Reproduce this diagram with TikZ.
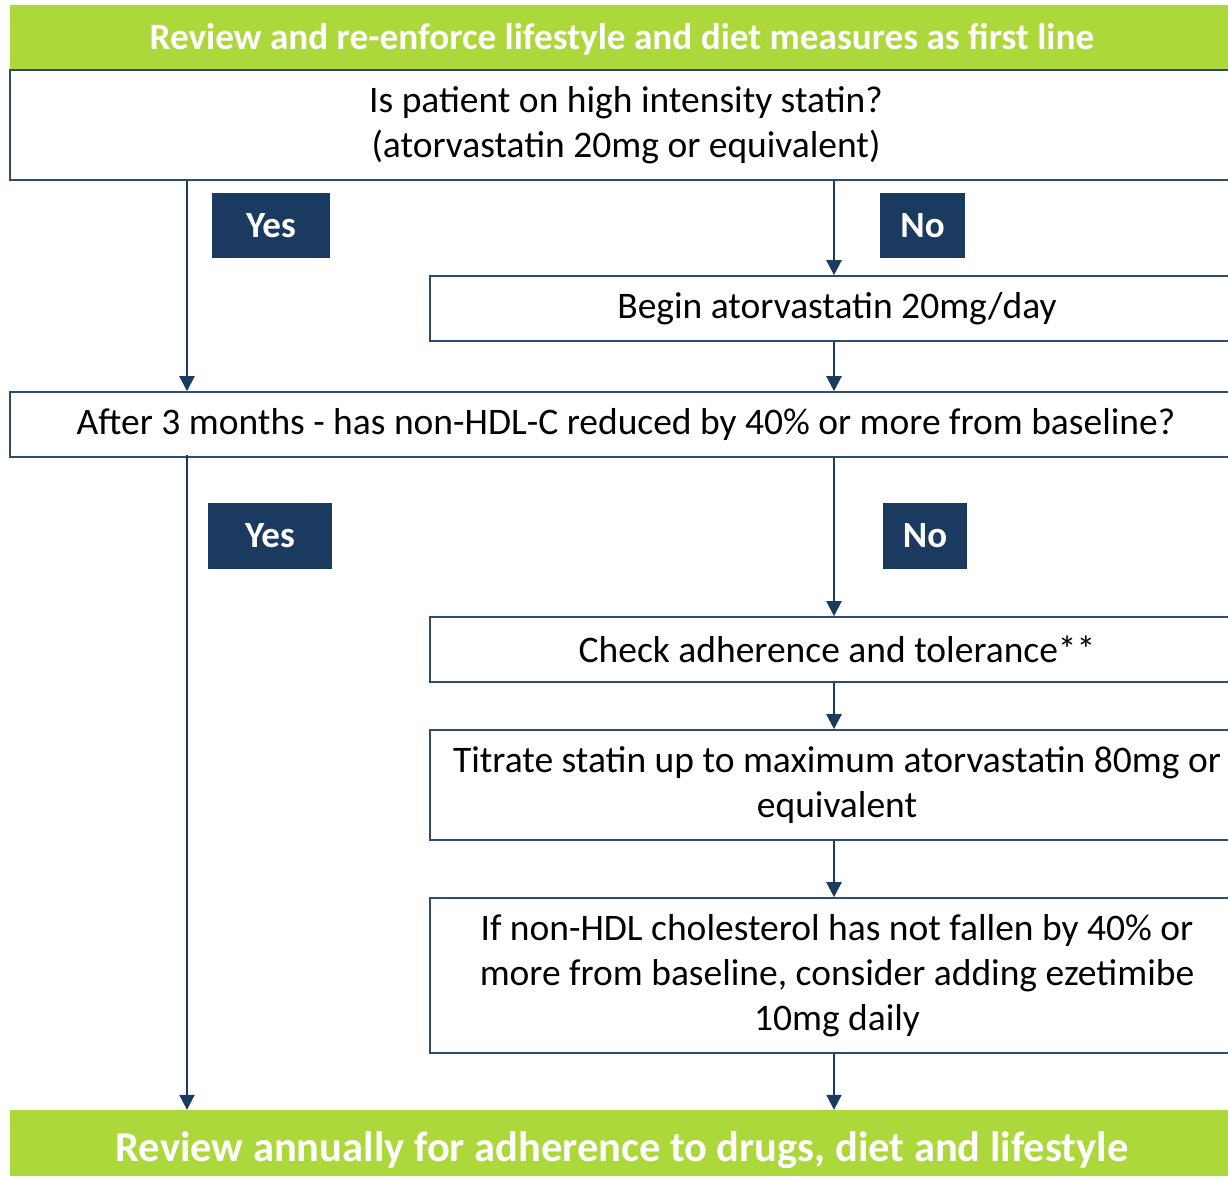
\documentclass[tikz,border=0pt]{standalone}
\usepackage{fontspec}
\setmainfont{Carlito}
\usetikzlibrary{arrows.meta}
\definecolor{lime}{HTML}{ADD83C}
\definecolor{navy}{HTML}{1B3A5F}
\definecolor{edge}{HTML}{2E4B70}
\tikzset{
  banner/.style={fill=lime, draw=none, text=white, inner sep=0pt, anchor=center},
  bantext/.style={text=white, inner sep=0pt},
  flowbox/.style={draw=edge, line width=1.6pt, fill=white, align=center, inner sep=0pt, font=\fontsize{37.5}{45}\selectfont},
  tag/.style={fill=navy, draw=none, text=white, font=\fontsize{37}{40}\selectfont\bfseries, inner sep=0pt},
  arr/.style={draw=navy, line width=2.2pt, -{Triangle[width=15pt,length=15pt]}}
}
\begin{document}
\begin{tikzpicture}[x=1pt,y=-1pt]
\useasboundingbox (0,0) rectangle (1228,1176);
\clip (0,0) rectangle (1228,1176);
\coordinate (xl) at (187,0);
\coordinate (xr) at (834,0);
% top banner
\node[banner, minimum width=1230pt, minimum height=65pt] (top) at (625,37.5) {};
\node[bantext, font=\fontsize{37.2}{40}\selectfont\bfseries] (toptxt) at (622,39) {Review and re-enforce lifestyle and diet measures as first line};
% boxes
\node[flowbox, minimum width=1232pt, minimum height=110pt] (b1) at (626,125) {Is patient on high intensity statin?\\(atorvastatin 20mg or equivalent)};
\node[flowbox, minimum width=814pt, minimum height=65pt] (b2) at (837,308.5) {Begin atorvastatin 20mg/day};
\node[flowbox, minimum width=1232pt, minimum height=65pt] (b3) at (626,424.5) {After 3 months - has non-HDL-C reduced by 40\% or more from baseline?};
\node[flowbox, minimum width=814pt, minimum height=65pt] (b4) at (837,649.5) {Check adherence and tolerance**};
\node[flowbox, minimum width=814pt, minimum height=110pt] (b5) at (837,785) {Titrate statin up to maximum atorvastatin 80mg or\\equivalent};
\node[flowbox, minimum width=814pt, minimum height=155pt] (b6) at (837,975.5) {If non-HDL cholesterol has not fallen by 40\% or\\more from baseline, consider adding ezetimibe\\10mg daily};
% bottom banner
\node[banner, minimum width=1230pt, minimum height=66pt] (bot) at (625,1143) {};
\node[bantext, font=\fontsize{42.5}{46}\selectfont\bfseries] (bottxt) at (622,1150) {Review annually for adherence to drugs, diet and lifestyle};
% tags
\node[tag, minimum width=118pt, minimum height=65pt] (y1) at (271,225.5) {Yes};
\node[tag, minimum width=85pt, minimum height=65pt] (n1) at (922.5,225.5) {No};
\node[tag, minimum width=124pt, minimum height=66pt] (y2) at (270,536) {Yes};
\node[tag, minimum width=84pt, minimum height=66pt] (n2) at (925,536) {No};
% connectors
\draw[arr] (b1.south -| xl) -- (b3.north -| xl);
\draw[arr] (b1.south -| xr) -- (b2.north -| xr);
\draw[arr] (b2.south -| xr) -- (b3.north -| xr);
\draw[arr] ([yshift=3pt]b3.south -| xl) -- (bot.north -| xl);
\draw[arr] (b3.south -| xr) -- (b4.north -| xr);
\draw[arr] (b4.south -| xr) -- (b5.north -| xr);
\draw[arr] (b5.south -| xr) -- (b6.north -| xr);
\draw[arr] (b6.south -| xr) -- (bot.north -| xr);
\end{tikzpicture}
\end{document}
